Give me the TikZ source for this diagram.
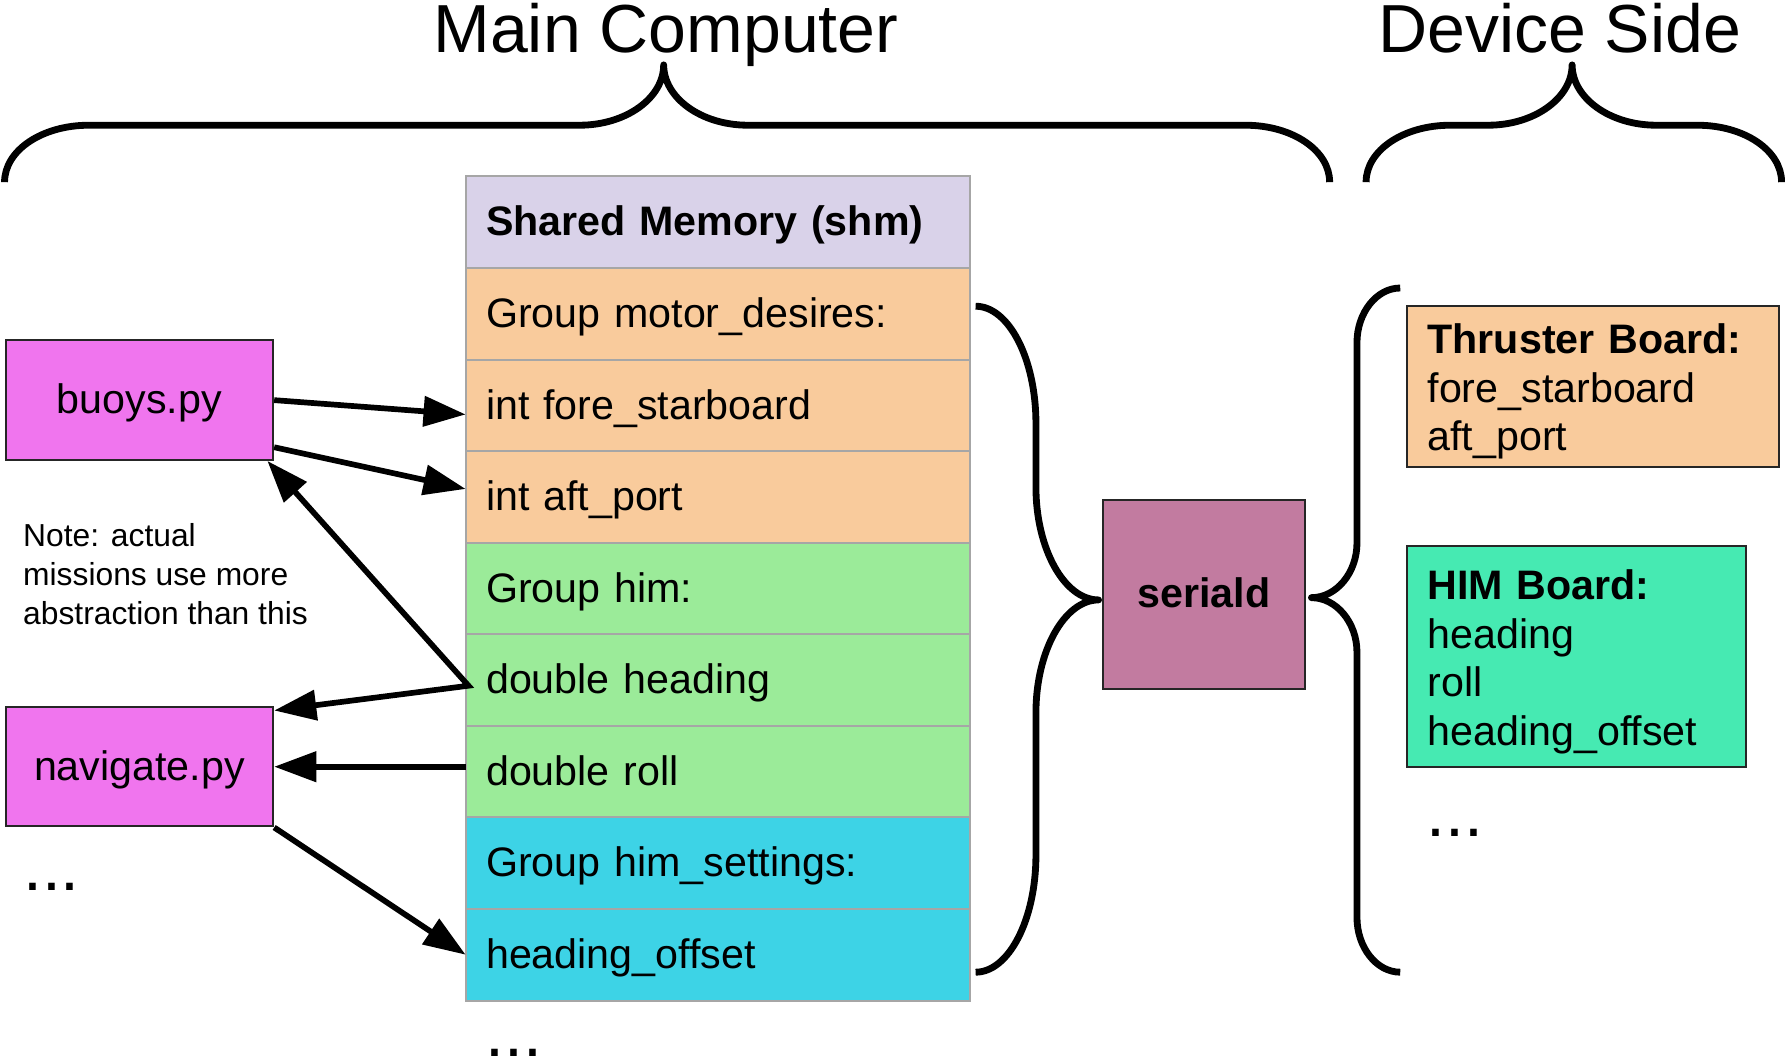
\documentclass[tikz,border=0pt]{standalone}
\usepackage{fontspec}
\setmainfont{Liberation Sans}
\usetikzlibrary{positioning,arrows.meta}
\definecolor{shmlav}{HTML}{D9D2E9}
\definecolor{motorpeach}{HTML}{F9CB9C}
\definecolor{himgreen}{HTML}{9BEB99}
\definecolor{setcyan}{HTML}{3DD3E6}
\definecolor{scriptpink}{HTML}{F075EE}
\definecolor{serialplum}{HTML}{C27BA0}
\definecolor{boardmint}{HTML}{46EAB2}
\definecolor{cellgray}{HTML}{A6A6A6}
\newcommand{\bodyfont}{\fontsize{20.6}{24.2}\selectfont}
\newcommand{\capfont}{\fontsize{34}{40}\selectfont}
\newcommand{\notefont}{\fontsize{15.9}{19.7}\selectfont}

\begin{document}
\begin{tikzpicture}[
x=0.02cm, y=-0.02cm,
>={Triangle[length=0.74cm,width=0.52cm]},
% one cell of the shared memory table
field/.style={
% The shape:
rectangle, outer sep=0pt,
% The size:
minimum width=8.86cm, minimum height=1.609cm,
text width=8.14cm, inner xsep=0.36cm,
text height=0.52cm, text depth=0.04cm,
% The border:
draw=cellgray, line width=1pt,
% Font
align=left, font=\bodyfont
},
% a python script on the main computer
script/.style={
rectangle, minimum width=4.7cm, minimum height=2.1cm,
draw=black!85, line width=1pt, fill=scriptpink,
text height=0.52cm, text depth=0.04cm,
font=\bodyfont
},
daemon/.style={script, fill=serialplum,
minimum width=3.54cm, minimum height=3.32cm, font=\bodyfont\bfseries},
% one board on the device side
board/.style={
rectangle, draw=black!85, line width=1pt,
inner xsep=0.36cm, inner ysep=0pt, align=left, text height=0.7cm,
font=\bodyfont
},
curly/.style={line width=0.12cm, line join=round},
link/.style={line width=0.1cm, ->},
bigtext/.style={font=\capfont, inner sep=0pt, anchor=base},
ellip/.style={font=\capfont, inner sep=0pt, text depth=0pt, anchor=base west},
remark/.style={font=\notefont, inner sep=0pt, align=left, anchor=base west}
]
\useasboundingbox (0,0) rectangle (1568,932);

% titles over the two braces
\node[bigtext] (maintitle) at (585,46.5) {Main Computer};
\node[bigtext] (devtitle) at (1370,46.5) {Device Side};

\draw[curly] (4,160) .. controls (4,132) and (37,110) .. (78,110) -- (509,110)
  .. controls (550,110) and (583,86) .. (583,57)
  .. controls (583,86) and (616,110) .. (657,110) -- (1094,110)
  .. controls (1135,110) and (1168,132) .. (1168,160);
\draw[curly] (1200,160) .. controls (1200,132) and (1233,110) .. (1274,110) -- (1307,110)
  .. controls (1348,110) and (1381,86) .. (1381,57)
  .. controls (1381,86) and (1414,110) .. (1455,110) -- (1491,110)
  .. controls (1532,110) and (1565,132) .. (1565,160);

% the shm table
\node[field, fill=shmlav, font=\bodyfont\bfseries] (shm) at (630.5,195.2) {Shared Memory (shm)};
\node[field, fill=motorpeach, below=0pt of shm] (desires) {Group motor\_desires:};
\node[field, fill=motorpeach, below=0pt of desires] (fore) {int fore\_starboard};
\node[field, fill=motorpeach, below=0pt of fore] (aft) {int aft\_port};
\node[field, fill=himgreen, below=0pt of aft] (him) {Group him:};
\node[field, fill=himgreen, below=0pt of him] (heading) {double heading};
\node[field, fill=himgreen, below=0pt of heading] (roll) {double roll};
\node[field, fill=setcyan, below=0pt of roll] (settings) {Group him\_settings:};
\node[field, fill=setcyan, below=0pt of settings] (offset) {heading\_offset};
\node[ellip] (morefields) at (426.5,928) {...};

% scripts
\node[script] (buoys) at (122.5,351.5) {buoys.py};
\node[script] (navigate) at (122.5,673.5) {navigate.py};
\node[ellip] (morescripts) at (20,782) {...};
\node[remark] (note) at (20,549) {Note: actual\\missions use more\\abstraction than this};

\draw[link] (buoys.east) -- ([yshift=-0.16cm]fore.west);
\draw[link] ([yshift=0.24cm]buoys.south east) -- ([yshift=0.14cm]aft.west);
\coordinate (hd) at ([xshift=0.05cm,yshift=-0.1cm]heading.west);
\draw[link, <->] ([xshift=-0.12cm]buoys.south east) -- (hd) -- ([yshift=-0.08cm]navigate.north east);
\draw[link] (roll.west |- navigate.east) -- (navigate.east);
\draw[link] (navigate.south east) -- (offset.west);

% seriald between the table and the boards
\draw[curly] (857,269) .. controls (886,269) and (910,315) .. (910,372) -- (910,428)
  .. controls (910,482) and (935,527) .. (965,527)
  .. controls (935,527) and (910,572) .. (910,626) -- (910,751)
  .. controls (910,808) and (886,854) .. (857,854);
\node[daemon] (seriald) at (1057.5,522) {seriald};
\draw[curly] (1230,253) .. controls (1209,253) and (1192,275) .. (1192,301) -- (1192,477)
  .. controls (1192,503) and (1174,525) .. (1152,525)
  .. controls (1174,525) and (1192,547) .. (1192,573) -- (1192,806)
  .. controls (1192,832) and (1209,854) .. (1230,854);

% boards
\node[board, fill=motorpeach, minimum width=6.54cm, minimum height=2.82cm, text width=5.82cm]
  (thruster) at (1399.5,339.5) {\textbf{Thruster Board:}\\fore\_starboard\\aft\_port};
\node[board, fill=boardmint, minimum width=5.96cm, minimum height=3.88cm, text width=5.24cm]
  (himboard) at (1385,577) {\textbf{HIM Board:}\\heading\\roll\\heading\_offset};
\node[ellip] (moreboards) at (1252.5,735) {...};
\end{tikzpicture}
\end{document}
